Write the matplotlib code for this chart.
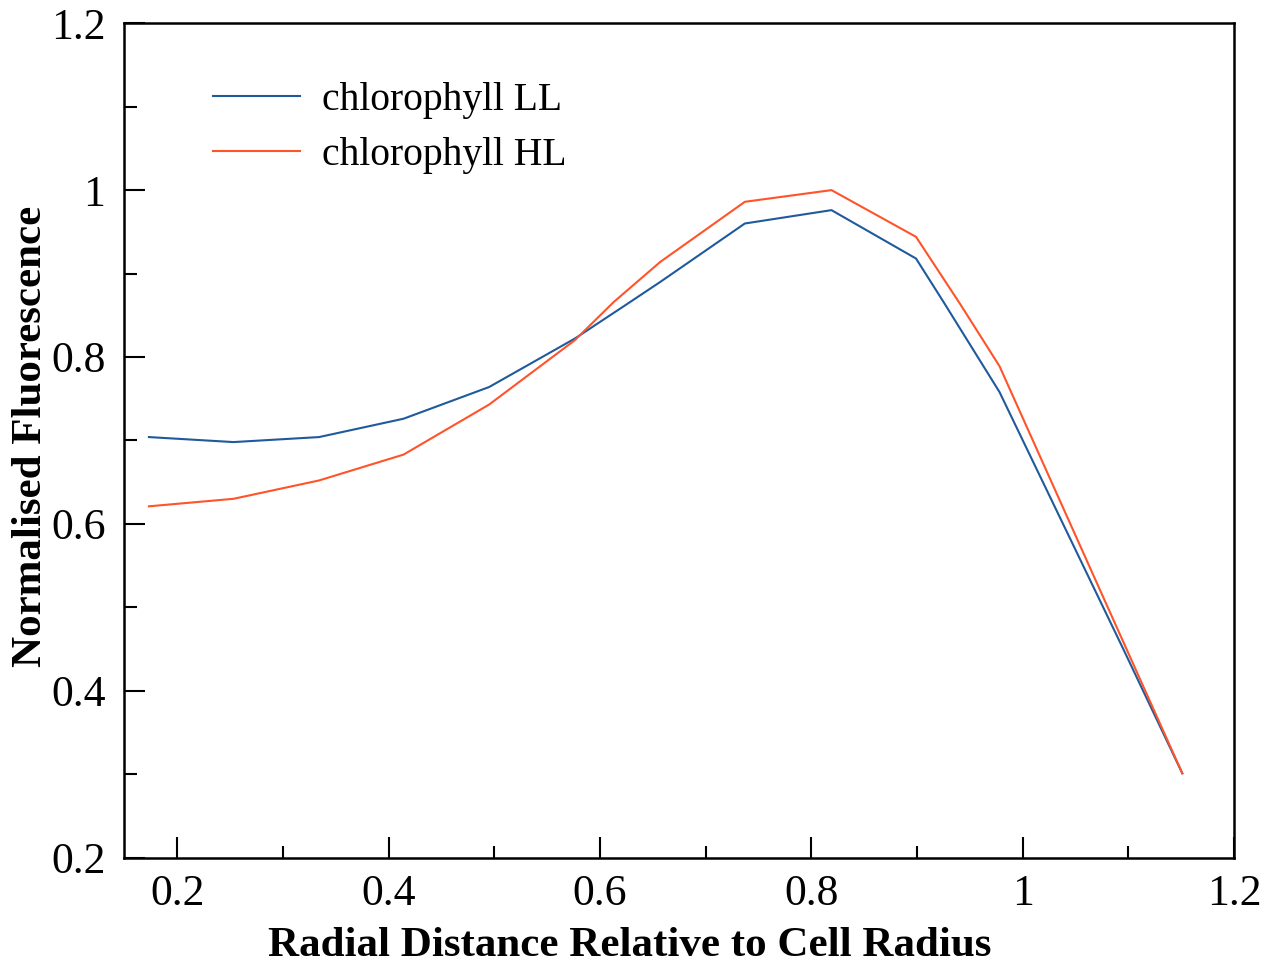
import matplotlib
matplotlib.use("Agg")
import matplotlib.pyplot as plt
from matplotlib.ticker import MultipleLocator, FuncFormatter

# values
x_ll = [0.173, 0.253, 0.334, 0.414, 0.495, 0.576, 0.625, 0.657, 0.737, 0.819, 0.899, 0.925, 0.978, 1.094, 1.151]
y_ll = [0.704, 0.698, 0.704, 0.726, 0.764, 0.822, 0.863, 0.890, 0.960, 0.976, 0.918, 0.866, 0.758, 0.453, 0.301]
x_hl = [0.173, 0.253, 0.334, 0.414, 0.495, 0.576, 0.613, 0.657, 0.737, 0.819, 0.899, 0.941, 0.978, 1.151]
y_hl = [0.621, 0.630, 0.652, 0.683, 0.743, 0.820, 0.866, 0.914, 0.986, 1.000, 0.944, 0.863, 0.789, 0.301]
labels = ["chlorophyll LL", "chlorophyll HL"]
colors = ["#1F5A9C", "#FF5429"]

plt.rcParams["font.family"] = ["Liberation Serif", "DejaVu Serif"]

fig = plt.figure(figsize=(12.75, 9.69), dpi=100)
ax = fig.add_axes([0.0969, 0.115, 0.871, 0.861])

ax.plot(x_ll, y_ll, color=colors[0], linewidth=1.5, label=labels[0])
ax.plot(x_hl, y_hl, color=colors[1], linewidth=1.5, label=labels[1])

ax.set_xlim(0.149, 1.2)
ax.set_ylim(0.2, 1.2)
ax.xaxis.set_major_locator(MultipleLocator(0.2))
ax.xaxis.set_minor_locator(MultipleLocator(0.1))
ax.yaxis.set_major_locator(MultipleLocator(0.2))
ax.yaxis.set_minor_locator(MultipleLocator(0.1))
fmt = FuncFormatter(lambda v, _: "1" if abs(v - 1) < 1e-9 else f"{v:.1f}")
ax.xaxis.set_major_formatter(fmt)
ax.yaxis.set_major_formatter(fmt)

ax.tick_params(which="both", direction="in", top=False, right=False, width=1.5, labelsize=31.5)
ax.tick_params(which="major", length=15)
ax.tick_params(axis="x", which="major", pad=12)
ax.tick_params(axis="y", which="major", pad=13)
ax.tick_params(which="minor", length=9)
for side in ax.spines.values():
    side.set_linewidth(1.8)

fig.text(630 / 1275, 1 - 946 / 969, "Radial Distance Relative to Cell Radius",
         fontsize=31, fontweight="bold", ha="center", va="center")
fig.text(31 / 1275, 1 - 436 / 969, "Normalised Fluorescence",
         fontsize=31, fontweight="bold", ha="center", va="center", rotation=90)

ax.legend(loc="upper left", bbox_to_anchor=(0.0485, 0.972), frameon=False, fontsize=28.5,
          handlelength=2.2, handletextpad=0.56, labelspacing=0.45)

fig.savefig("out.png", dpi=100)
